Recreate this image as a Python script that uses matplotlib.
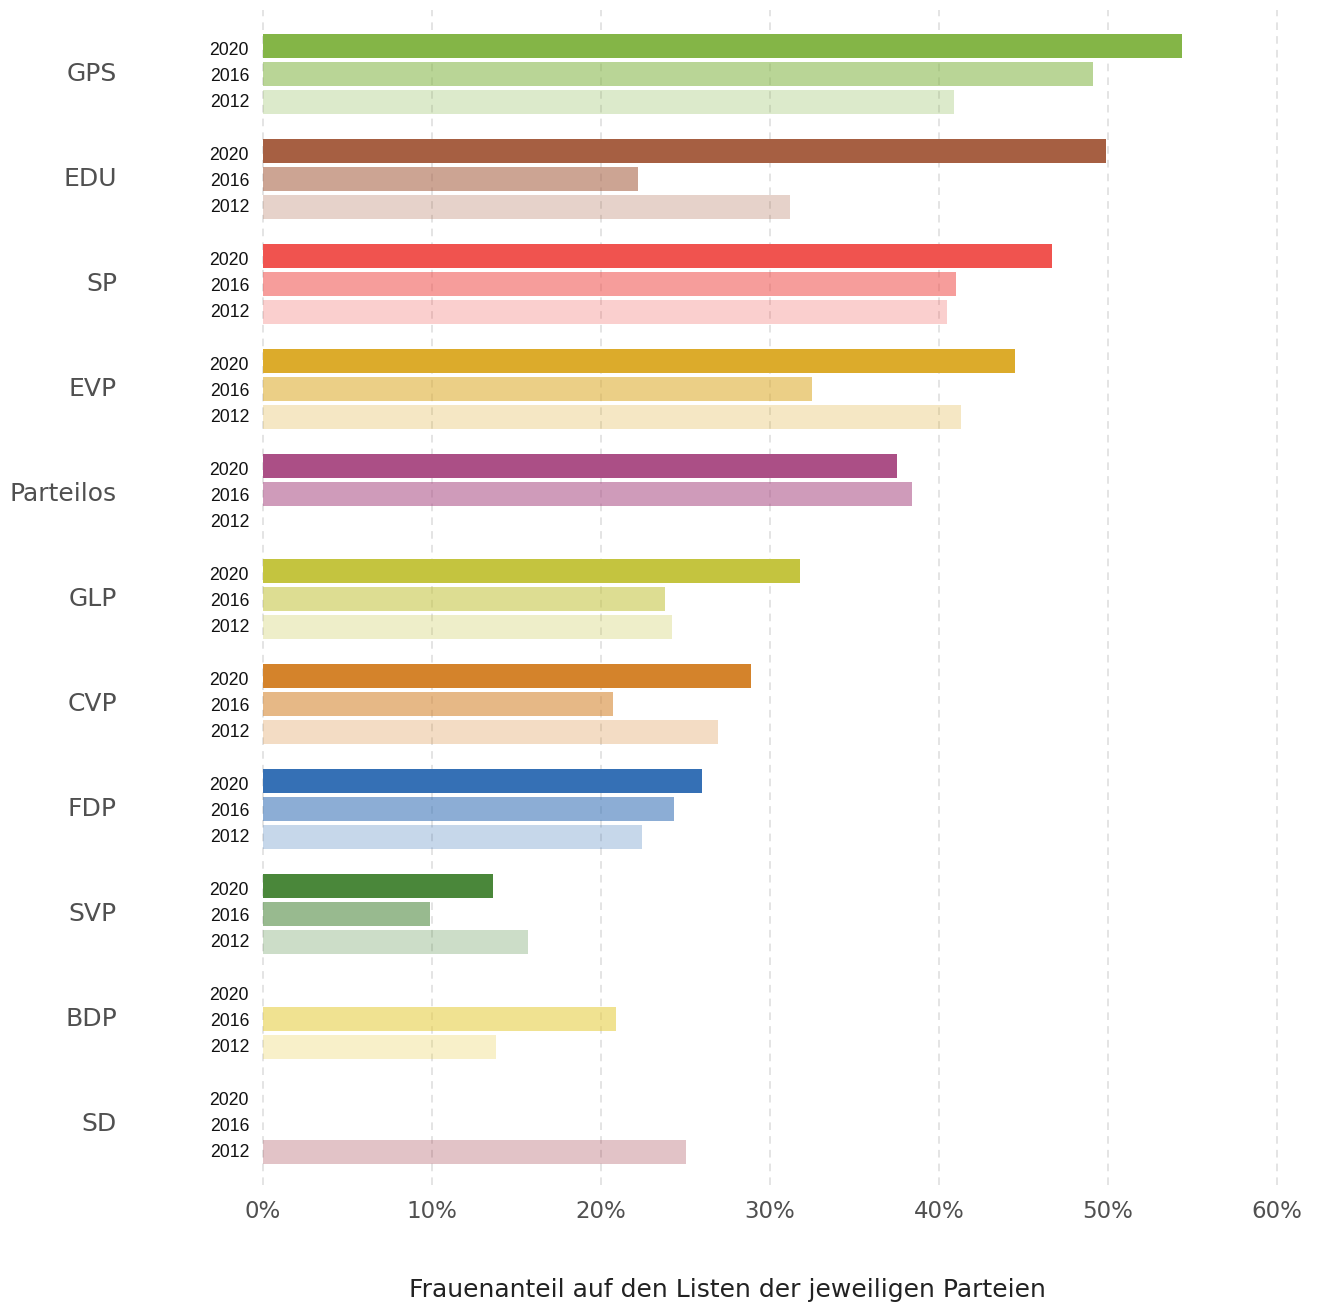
import numpy as np
import matplotlib
matplotlib.use("Agg")
import matplotlib.pyplot as plt
from matplotlib.ticker import FuncFormatter

# Frauenanteil auf den Listen (in %), Jahre 2020 / 2016 / 2012
parties = ["GPS", "EDU", "SP", "EVP", "Parteilos", "GLP", "CVP", "FDP", "SVP", "BDP", "SD"]
years = ["2020", "2016", "2012"]
share_2020 = [54.4, 49.9, 46.7, 44.5, 37.5, 31.8, 28.9, 26.0, 13.6, np.nan, np.nan]
share_2016 = [49.1, 22.2, 41.0, 32.5, 38.4, 23.8, 20.7, 24.3, 9.9, 20.9, np.nan]
share_2012 = [40.9, 31.2, 40.5, 41.3, np.nan, 24.2, 26.9, 22.4, 15.7, 13.8, 25.0]
colors = ["#84b547", "#a65f42", "#f0534f", "#dcab2b", "#ab4f86", "#c4c43f",
          "#d4832b", "#3570b5", "#4a873a", "#e6cc3e", "#972837"]
alphas = [1.0, 0.57, 0.28]

W, H = 1318, 1303
fig = plt.figure(figsize=(W / 100, H / 100), dpi=100)
ax = fig.add_axes([263 / W, 1 - 1185 / H, (1277 - 263) / W, (1185 - 10) / H])

label_step = 26 / 105   # spacing of the year labels
bar_step = 27.9 / 105   # spacing of the bars
bar_h = 23.5 / 105
ytick_pos, ytick_lab = [], []
for j, vals in enumerate([share_2020, share_2016, share_2012]):
    for i, v in enumerate(vals):
        ytick_pos.append(i + (j - 1) * label_step)
        ytick_lab.append(years[j])
        if not np.isnan(v):
            ax.barh(i + (j - 1) * bar_step, v, height=bar_h, color=colors[i],
                    alpha=alphas[j], linewidth=0)

for i, p in enumerate(parties):
    ax.text(-0.144, i, p, transform=ax.get_yaxis_transform(), ha="right", va="center",
            fontsize=18, color="#505050", family="DejaVu Sans")

ax.set_xlim(0, 60)
ax.set_ylim(10.58, -0.61)
ax.set_xticks([0, 10, 20, 30, 40, 50, 60])
ax.xaxis.set_major_formatter(FuncFormatter(lambda x, _: f"{int(x)}%"))
ax.set_yticks(ytick_pos)
ax.set_yticklabels(ytick_lab, fontsize=12.7, family="Liberation Sans", color="#111111")
ax.tick_params(axis="y", length=0, pad=10)
ax.tick_params(axis="x", length=0, pad=11, labelsize=16.5, labelcolor="#505050")
for lab in ax.get_xticklabels():
    lab.set_family("DejaVu Sans")

ax.grid(axis="x", color="#dddddd", linestyle=(0, (5, 4)), linewidth=1.1)
ax.grid(axis="y", visible=False)
for gl in ax.get_xgridlines():
    gl.set_clip_on(False)
ax.set_axisbelow(True)
for s in ax.spines.values():
    s.set_visible(False)

fig.text(727 / W, 1 - 1290 / H, "Frauenanteil auf den Listen der jeweiligen Parteien",
         ha="center", va="center", fontsize=18, color="#222222", family="DejaVu Sans")

fig.savefig("out.png", dpi=100)
